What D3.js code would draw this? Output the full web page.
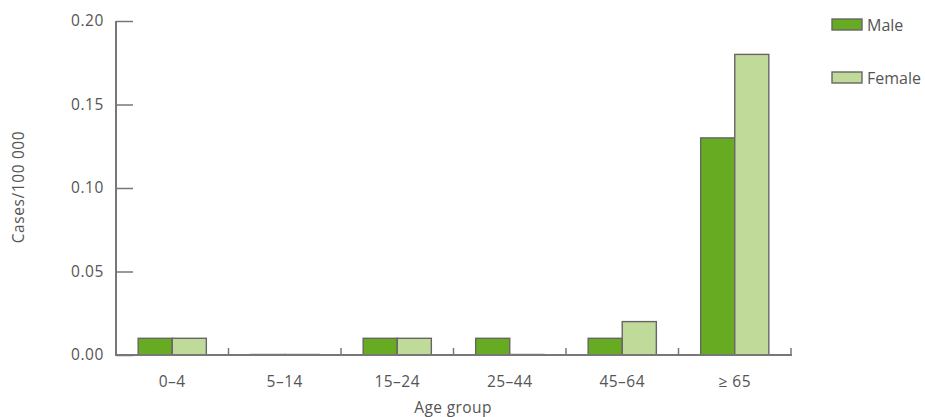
<!DOCTYPE html>
<html><head><meta charset="utf-8">
<script src="https://cdn.jsdelivr.net/npm/d3@7"></script>
<style>body{margin:0;background:#fff}svg{display:block}text{font-family:"Open Sans","Noto Sans",sans-serif;fill:#555}</style>
</head><body><svg id="c" width="925" height="417"></svg>
<script>
const categories = ["0–4","5–14","15–24","25–44","45–64","≥ 65"];
const seriesNames = ["Male","Female"];
const male = [0.01,0,0.01,0.01,0.01,0.13];
const female = [0.01,0,0.01,0,0.02,0.18];
const yTicks = [0,0.05,0.10,0.15,0.20];
const colors = ["#66ab22","#c0da9a"];

const svg = d3.select("#c");
const x = d3.scaleBand().domain(categories).range([116,791]).paddingInner(0).paddingOuter(0);
const xs = d3.scaleBand().domain(seriesNames).range([0,x.bandwidth()]).paddingInner(0).paddingOuter(0.65);
const y = d3.scaleLinear().domain([0,0.2]).range([355,21]);
const axisColor = "#777";

// bars
const data = categories.map((c,i)=>({c, vals:[male[i],female[i]]}));
const g = svg.append("g");
data.forEach(d=>{
  d.vals.forEach((v,j)=>{
    const h = Math.max(y(0)-y(v),0.5);
    g.append("rect").attr("x",x(d.c)+xs(seriesNames[j])).attr("y",y(0)-h)
     .attr("width",xs.bandwidth()).attr("height",h)
     .attr("fill",colors[j]).attr("stroke","#666").attr("stroke-width",1.4);
  });
});

// y axis
const ya = svg.append("g").attr("transform","translate(116,0)")
  .call(d3.axisRight(y).tickValues(yTicks).tickSize(17).tickFormat(d3.format(".2f")));
ya.select(".domain").attr("stroke",axisColor).attr("stroke-width",2).attr("d","M0,21V356");
ya.selectAll(".tick line").attr("stroke",axisColor).attr("stroke-width",1.5);
ya.selectAll(".tick text").attr("x",-12).attr("text-anchor","end").attr("font-size",15.5).attr("letter-spacing","0.6px").attr("fill","#555").attr("dy","0.32em");

// x axis
const xa = svg.append("g").attr("transform","translate(0,355)");
xa.append("line").attr("x1",115).attr("x2",792).attr("y1",0).attr("y2",0).attr("stroke",axisColor).attr("stroke-width",2);
const xt = categories.map(c=>x(c)+x.bandwidth());
xa.selectAll("line.t").data(xt).join("line").attr("class","t")
  .attr("x1",d=>d).attr("x2",d=>d).attr("y1",0).attr("y2",-7).attr("stroke",axisColor).attr("stroke-width",1.5);
xa.selectAll("text").data(categories).join("text")
  .attr("x",d=>x(d)+x.bandwidth()/2).attr("y",32).attr("text-anchor","middle").attr("font-size",15.5).attr("letter-spacing","0.5px").text(d=>d);

// titles
svg.append("text").attr("x",453).attr("y",413).attr("text-anchor","middle").attr("font-size",15.5).attr("letter-spacing","0.4px").text("Age group");
svg.append("text").attr("transform","translate(24,187) rotate(-90)").attr("text-anchor","middle").attr("font-size",15.5).attr("letter-spacing","0.6px").text("Cases/100 000");

// legend
const lg = svg.append("g");
seriesNames.forEach((s,i)=>{
  const yy = 19 + i*53;
  lg.append("rect").attr("x",832).attr("y",yy).attr("width",30).attr("height",11)
    .attr("fill",colors[i]).attr("stroke","#666").attr("stroke-width",1.4);
  lg.append("text").attr("x",867).attr("y",yy+12).attr("font-size",16).text(s);
});
</script></body></html>
